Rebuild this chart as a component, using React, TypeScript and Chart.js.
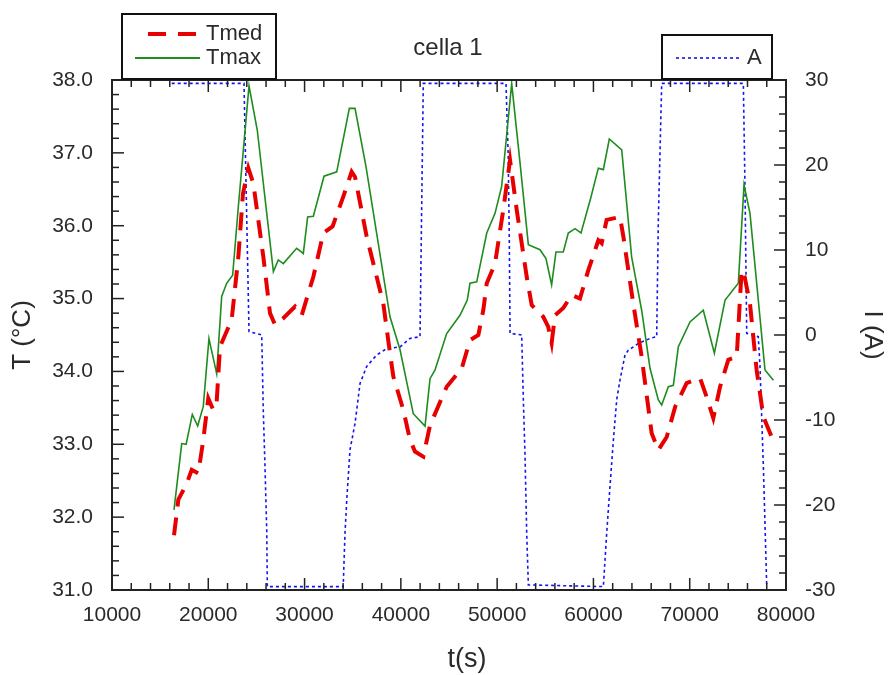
import { useEffect, useRef } from 'react';
import { Chart, registerables } from 'chart.js';

Chart.register(...registerables);

// ---- data ----
const tmaxTime = [16440, 17240, 17700, 18340, 18900, 19480, 20070, 20870, 21390, 21910, 22530, 23120, 24230, 25090, 26760, 27270, 27790, 29180, 29870, 30320, 30910, 32020, 33340, 34650, 35240, 36380, 38870, 39910, 41290, 42510, 43030, 43550, 44760, 46140, 46900, 47180, 47880, 48920, 49780, 50470, 51510, 52380, 53240, 54450, 55070, 55660, 56110, 56870, 57390, 58090, 58710, 59720, 60510, 61030, 61650, 62940, 63970, 65010, 65880, 66740, 67090, 67780, 68300, 68820, 70030, 71410, 72560, 73670, 75050, 75640, 76260, 77820, 78690];
const tmaxTemp = [32.10, 33.01, 33.00, 33.41, 33.25, 33.52, 34.45, 33.97, 35.03, 35.21, 35.32, 36.26, 37.92, 37.31, 35.37, 35.53, 35.48, 35.69, 35.62, 36.12, 36.13, 36.68, 36.74, 37.61, 37.61, 36.81, 34.75, 34.30, 33.42, 33.25, 33.90, 34.02, 34.52, 34.77, 34.98, 35.21, 35.23, 35.90, 36.17, 36.54, 37.95, 36.86, 35.74, 35.67, 35.55, 35.19, 35.64, 35.64, 35.90, 35.96, 35.90, 36.38, 36.79, 36.77, 37.19, 37.04, 35.57, 34.84, 34.04, 33.61, 33.54, 33.79, 33.81, 34.34, 34.68, 34.84, 34.25, 34.98, 35.21, 36.56, 36.17, 34.02, 33.88];

const tmedTime = [16440, 16890, 17760, 18280, 18960, 19480, 20000, 20520, 20870, 21220, 22430, 23120, 23600, 24160, 24680, 25720, 26410, 26930, 27790, 29010, 29700, 30910, 31950, 32910, 34020, 34890, 35240, 36450, 38180, 38870, 39220, 40260, 40950, 41470, 42330, 43030, 44760, 46320, 47180, 48050, 48560, 48920, 49780, 50640, 51340, 52030, 53070, 53590, 54790, 55310, 55660, 56010, 56870, 57740, 58600, 59470, 60510, 60860, 61370, 62760, 63110, 64140, 65010, 66050, 66740, 67610, 68500, 69680, 71070, 71760, 72450, 73150, 74010, 74880, 75390, 75700, 76260, 76950, 77650, 78690];
const tmedTemp = [31.75, 32.24, 32.46, 32.65, 32.60, 33.06, 33.63, 33.47, 33.58, 34.34, 34.71, 35.57, 36.44, 36.79, 36.58, 35.57, 34.80, 34.64, 34.73, 34.89, 34.77, 35.30, 35.90, 35.99, 36.40, 36.74, 36.67, 35.85, 34.93, 34.25, 33.93, 33.47, 33.06, 32.90, 32.83, 33.26, 33.79, 34.04, 34.43, 34.50, 34.84, 35.21, 35.48, 36.22, 36.90, 36.22, 35.30, 34.91, 34.75, 34.61, 34.39, 34.77, 34.87, 35.05, 35.00, 35.39, 35.80, 35.76, 36.08, 36.12, 35.85, 34.93, 34.20, 33.15, 32.92, 33.10, 33.52, 33.84, 33.91, 33.65, 33.36, 33.79, 34.16, 34.20, 35.39, 35.30, 34.93, 34.02, 33.38, 33.04];

const currTime = [16200, 23710, 24230, 25550, 25710, 25890, 26070, 26130, 34010, 34200, 34380, 34720, 35240, 35760, 36450, 37490, 38530, 39910, 40950, 41990, 42330, 50920, 51150, 51260, 51340, 52550, 52720, 52890, 53070, 53240, 61030, 61380, 61720, 62070, 62420, 62760, 63280, 63620, 64660, 65880, 66570, 66740, 67090, 75570, 75740, 75920, 77120, 77300, 77650, 78000];
const currAmp = [29.6, 29.6, 0.4, 0.0, -8.8, -15.5, -23.0, -29.6, -29.6, -23.3, -19.4, -13.5, -10.4, -5.7, -3.7, -2.35, -1.6, -1.4, -0.4, -0.2, 29.6, 29.6, 21.0, 11.6, 0.2, 0.0, -7.6, -13.9, -23.3, -29.4, -29.6, -23.3, -17.8, -12.4, -7.6, -5.3, -2.35, -1.8, -1.0, -0.4, -0.2, 13.5, 29.6, 29.6, 17.4, 0.2, -0.2, -3.7, -15.5, -29.6];

// axis ranges / ticks
const X_MIN = 10000, X_MAX = 80000, X_MAJOR = 10000, X_MINOR = 2000;
const T_MIN = 31, T_MAX = 38, T_MAJOR = 1, T_MINOR = 0.2;
const A_MIN = -30, A_MAX = 30, A_MAJOR = 10, A_MINOR = 2;

const FONT = '"Liberation Sans", Arial, Helvetica, sans-serif';
const TEXT = '#2a2a2a';
const RED = 'rgb(232,0,0)';
const GREEN = 'rgb(30,140,30)';
const BLUE = 'rgb(20,20,240)';

const pts = (xs: number[], ys: number[]) => xs.map((x, i) => ({ x, y: ys[i] }));

const framePlugin = {
  id: 'frameAndLegends',
  afterDraw(chart: any) {
    const { ctx, chartArea: a, scales } = chart;
    const sx = scales.x, sT = scales.yT, sA = scales.yA;
    ctx.save();
    ctx.strokeStyle = '#222';
    ctx.lineWidth = 1.5;
    const seg = (x1: number, y1: number, x2: number, y2: number) => {
      ctx.beginPath();
      ctx.moveTo(x1, y1);
      ctx.lineTo(x2, y2);
      ctx.stroke();
    };
    const nx = Math.round((X_MAX - X_MIN) / X_MINOR);
    for (let i = 0; i <= nx; i++) {
      const v = X_MIN + i * X_MINOR;
      const px = sx.getPixelForValue(v);
      const len = (v - X_MIN) % X_MAJOR === 0 ? 12 : 7;
      seg(px, a.bottom, px, a.bottom - len);
      seg(px, a.top, px, a.top + len);
    }
    const nt = Math.round((T_MAX - T_MIN) / T_MINOR);
    for (let i = 0; i <= nt; i++) {
      const v = T_MIN + i * T_MINOR;
      const py = sT.getPixelForValue(v);
      const len = i % Math.round(T_MAJOR / T_MINOR) === 0 ? 12 : 7;
      seg(a.left, py, a.left + len, py);
    }
    const na = Math.round((A_MAX - A_MIN) / A_MINOR);
    for (let i = 0; i <= na; i++) {
      const v = A_MIN + i * A_MINOR;
      const py = sA.getPixelForValue(v);
      const len = i % Math.round(A_MAJOR / A_MINOR) === 0 ? 12 : 7;
      seg(a.right, py, a.right - len, py);
    }
    ctx.lineWidth = 2;
    ctx.strokeRect(a.left, a.top, a.right - a.left, a.bottom - a.top);

    // title and x-axis title
    ctx.fillStyle = TEXT;
    ctx.textAlign = 'center';
    ctx.textBaseline = 'middle';
    ctx.font = `24px ${FONT}`;
    ctx.fillText('cella 1', 448, 48);
    ctx.font = `27px ${FONT}`;
    ctx.fillText('t(s)', 467, 660);

    // legend box 1
    ctx.fillStyle = '#fff';
    ctx.fillRect(122, 14, 154, 65);
    ctx.strokeStyle = '#111';
    ctx.lineWidth = 2;
    ctx.strokeRect(122, 14, 154, 65);
    ctx.lineWidth = 4;
    ctx.strokeStyle = RED;
    ctx.setLineDash([18, 12]);
    seg(148, 34, 200, 34);
    ctx.setLineDash([]);
    ctx.lineWidth = 1.8;
    ctx.strokeStyle = GREEN;
    seg(135, 58, 200, 58);
    ctx.fillStyle = TEXT;
    ctx.textAlign = 'left';
    ctx.font = `22px ${FONT}`;
    ctx.fillText('Tmed', 206, 34);
    ctx.fillText('Tmax', 206, 58);

    // legend box 2
    ctx.fillStyle = '#fff';
    ctx.fillRect(662, 35, 110, 44);
    ctx.strokeStyle = '#111';
    ctx.lineWidth = 2;
    ctx.strokeRect(662, 35, 110, 44);
    ctx.strokeStyle = BLUE;
    ctx.lineWidth = 1.6;
    ctx.setLineDash([3, 3]);
    seg(676, 58, 740, 58);
    ctx.setLineDash([]);
    ctx.fillStyle = TEXT;
    ctx.fillText('A', 747, 58);
    ctx.restore();
  },
};

export default function App() {
  const ref = useRef<HTMLCanvasElement | null>(null);
  useEffect(() => {
    document.body.style.margin = '0';
    if (!ref.current) return;
    const tickFont = { family: FONT, size: 21 };
    const chart = new Chart(ref.current, {
      type: 'line',
      data: {
        datasets: [
          {
            label: 'Tmed',
            data: pts(tmedTime, tmedTemp),
            yAxisID: 'yT',
            borderColor: RED,
            borderWidth: 4,
            borderDash: [18, 11],
            pointRadius: 0,
            fill: false,
            tension: 0,
          },
          {
            label: 'Tmax',
            data: pts(tmaxTime, tmaxTemp),
            yAxisID: 'yT',
            borderColor: GREEN,
            borderWidth: 1.6,
            pointRadius: 0,
            fill: false,
            tension: 0,
          },
          {
            label: 'A',
            data: pts(currTime, currAmp),
            yAxisID: 'yA',
            borderColor: BLUE,
            borderWidth: 1.6,
            borderDash: [3, 3],
            pointRadius: 0,
            fill: false,
            tension: 0,
          },
        ],
      },
      options: {
        animation: false,
        responsive: false,
        devicePixelRatio: 1,
        layout: { padding: { top: 80, left: 0, right: 0, bottom: 0 } },
        plugins: { legend: { display: false }, title: { display: false }, tooltip: { enabled: false } },
        scales: {
          x: {
            type: 'linear',
            min: X_MIN,
            max: X_MAX,
            grid: { display: false, drawTicks: false },
            border: { display: false },
            ticks: {
              stepSize: X_MAJOR,
              autoSkip: false,
              maxRotation: 0,
              padding: 13,
              color: TEXT,
              font: tickFont,
              callback: (v: any) => String(v),
            },
            afterFit: (s: any) => { s.height = 85; },
          },
          yT: {
            type: 'linear',
            position: 'left',
            min: T_MIN,
            max: T_MAX,
            grid: { display: false, drawTicks: false },
            border: { display: false },
            ticks: {
              stepSize: T_MAJOR,
              padding: 19,
              color: TEXT,
              font: tickFont,
              callback: (v: any) => Number(v).toFixed(1),
            },
            title: { display: true, text: 'T (°C)', color: TEXT, font: { family: FONT, size: 26 }, padding: { top: 7, bottom: 0 } },
            afterFit: (s: any) => { s.width = 112; },
          },
          yA: {
            type: 'linear',
            position: 'right',
            min: A_MIN,
            max: A_MAX,
            grid: { display: false, drawTicks: false },
            border: { display: false },
            ticks: {
              stepSize: A_MAJOR,
              padding: 19,
              color: TEXT,
              font: tickFont,
              callback: (v: any) => String(v),
            },
            title: { display: true, text: 'I (A)', color: TEXT, font: { family: FONT, size: 26 }, padding: { top: 0, bottom: 0 } },
            afterFit: (s: any) => { s.width = 102; },
          },
        },
      },
      plugins: [framePlugin],
    } as any);
    return () => chart.destroy();
  }, []);
  return (
    <div style={{ width: 888, height: 675 }}>
      <canvas ref={ref} width={888} height={675} style={{ display: 'block', width: 888, height: 675 }} />
    </div>
  );
}
